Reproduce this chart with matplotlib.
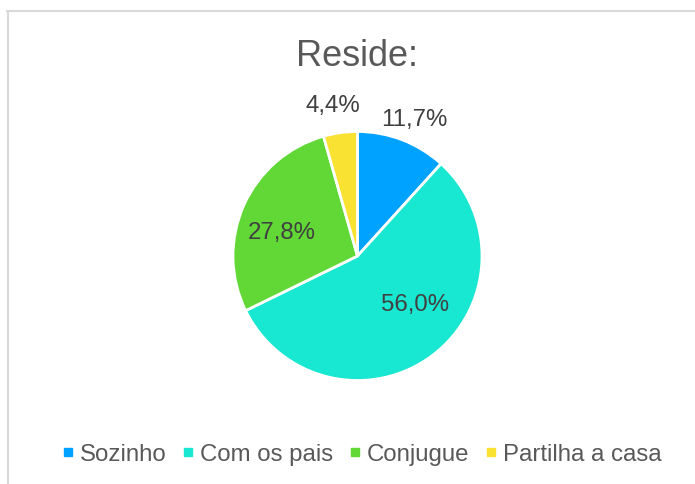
import numpy as np
import matplotlib
matplotlib.use('Agg')
import matplotlib.pyplot as plt
from matplotlib.lines import Line2D

plt.rcParams['font.family'] = ['Liberation Sans', 'DejaVu Sans']

# data
categories = ['Sozinho', 'Com os pais', 'Conjugue', 'Partilha a casa']
values = [11.7, 56.0, 27.8, 4.4]
colors = ['#00A2FF', '#18E7D1', '#61D836', '#FAE232']
title = 'Reside:'

# label placement (radius, angle shift in deg) as Excel puts them
label_pos = [(1.19, -1.5), (0.60, 13.0), (0.64, 6.5), (1.23, 1.3)]

W, H = 695, 485
fig = plt.figure(figsize=(W / 100, H / 100), dpi=100)

# pie axes placed in pixels: centre (357.5, 257), radius 124.5
cx, cy, r = 357.5, 257, 124.5
ax = fig.add_axes([(cx - r) / W, (H - cy - r) / H, 2 * r / W, 2 * r / H])
wedges, _ = ax.pie(values, colors=colors, startangle=90, counterclock=False,
                   radius=1, wedgeprops=dict(edgecolor='white', linewidth=2))
ax.set_xlim(-1, 1)
ax.set_ylim(-1, 1)
ax.set_aspect('auto')
ax.axis('off')

for w, v, (rd, shift) in zip(wedges, values, label_pos):
    ang = np.deg2rad((w.theta1 + w.theta2) / 2 + shift)
    ax.text(rd * np.cos(ang), rd * np.sin(ang),
            f'{v:.1f}%'.replace('.', ','), ha='center', va='center',
            fontsize=17.3, color='#404040', clip_on=False)

fig.text(357 / W, 1 - 56 / H, title, ha='center', va='center',
         fontsize=26, color='#595959')

# chart frame (only top and left visible in the crop)
frame = '#D9D9D9'
fig.add_artist(Line2D([7 / W, 1], [1 - 12 / H] * 2, color=frame, lw=1.5,
                      transform=fig.transFigure))
fig.add_artist(Line2D([8 / W] * 2, [1 - 12 / H, 0], color=frame, lw=1.5,
                      transform=fig.transFigure))

handles = [Line2D([], [], marker='s', ls='none', color=c, markersize=6)
           for c in colors]
fig.legend(handles, categories, loc='center', ncol=4,
           bbox_to_anchor=(362 / W, 1 - 455 / H), frameon=False,
           fontsize=17.3, labelcolor='#595959', handlelength=0.5,
           handletextpad=0.25, columnspacing=0.65)

fig.savefig('out.png', dpi=100)
